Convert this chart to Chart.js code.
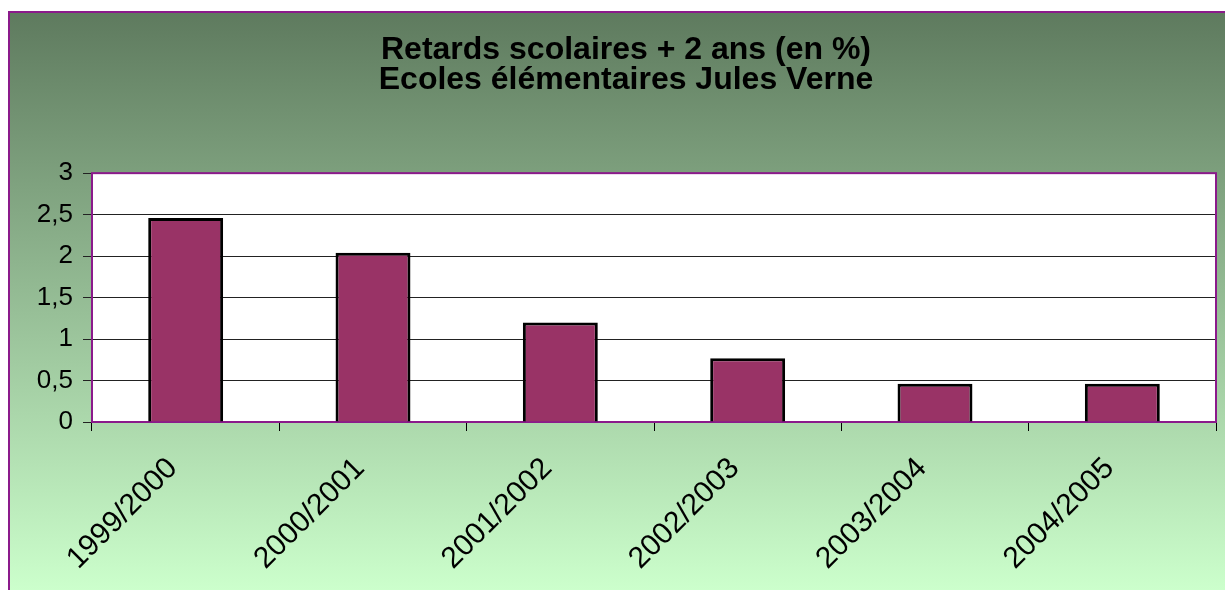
<!DOCTYPE html>
<html>
<head>
<meta charset="utf-8">
<script src="https://cdn.jsdelivr.net/npm/chart.js@4"></script>
<style>
  html, body { margin: 0; padding: 0; background: #fff; }
  #wrap { width: 1225px; height: 590px; }
</style>
</head>
<body>
<div id="wrap"><canvas id="graph" width="1225" height="590"></canvas></div>
<script>
//categories (school years)
var years = ['1999/2000', '2000/2001', '2001/2002', '2002/2003', '2003/2004', '2004/2005'];
//values (%)
var retards = [2.46, 2.04, 1.2, 0.77, 0.46, 0.46];
//y tick labels
var y_ticks = ['0', '0,5', '1', '1,5', '2', '2,5', '3'];
var title_lines = ['Retards scolaires + 2 ans (en %)', 'Ecoles élémentaires Jules Verne'];

//background gradient + outer frame + white plot area
var backdrop = {
    id: 'backdrop',
    beforeDraw: function (chart) {
        var c = chart.ctx;
        var g = c.createLinearGradient(0, 11, 0, 590);
        g.addColorStop(0, '#5e7a5e');
        g.addColorStop(1, '#ccffcc');
        c.save();
        c.fillStyle = g;
        c.fillRect(9, 12, 1225, 590);
        c.strokeStyle = '#8b1a8b';
        c.lineWidth = 2;
        c.beginPath();
        c.moveTo(9, 600);
        c.lineTo(9, 12);
        c.lineTo(1230, 12);
        c.stroke();
        var a = chart.chartArea;
        c.fillStyle = '#ffffff';
        c.fillRect(a.left, a.top, a.right - a.left, a.bottom - a.top);
        c.restore();
    },
    beforeDatasetsDraw: function (chart) {
        var c = chart.ctx;
        var a = chart.chartArea;
        c.save();
        c.strokeStyle = '#8b1a8b';
        c.lineWidth = 2;
        c.strokeRect(a.left, a.top, a.right - a.left, a.bottom - a.top);
        c.restore();
    }
};

new Chart(document.getElementById('graph'), {
    type: 'bar',
    data: {
        labels: years,
        datasets: [{
            data: retards,
            backgroundColor: '#993366',
            borderColor: '#000000',
            borderWidth: 3,
            barPercentage: 0.4,
            categoryPercentage: 1
        }]
    },
    plugins: [backdrop],
    options: {
        responsive: false,
        animation: false,
        //left padding pushes the title centre to the right like the original
        layout: { padding: { left: 36, right: 9, top: 0, bottom: 0 } },
        plugins: {
            legend: { display: false },
            tooltip: { enabled: false },
            title: {
                display: true,
                text: title_lines,
                color: '#000',
                font: { family: 'Liberation Sans, Arial', size: 32, weight: 'bold', lineHeight: 0.94 },
                padding: { top: 35, bottom: 78 }
            }
        },
        scales: {
            x: {
                offset: true,
                grid: {
                    offset: true,
                    drawOnChartArea: false,
                    tickLength: 9,
                    color: '#000'
                },
                border: { display: false },
                ticks: {
                    color: '#000',
                    minRotation: 45,
                    maxRotation: 45,
                    padding: 20,
                    labelOffset: -13,
                    font: { family: 'Liberation Sans, Arial', size: 30 }
                },
                afterFit: function (scale) { scale.height = 590 - 422; }
            },
            y: {
                min: 0,
                max: 3,
                grid: {
                    color: '#222',
                    lineWidth: 1,
                    tickLength: 9
                },
                border: { display: false },
                ticks: {
                    stepSize: 0.5,
                    color: '#000',
                    padding: 10,
                    font: { family: 'Liberation Sans, Arial', size: 26 },
                    callback: function (v, i) { return y_ticks[i]; }
                },
                afterFit: function (scale) { scale.width = 92 - 36; }
            }
        }
    }
});
</script>
</body>
</html>
